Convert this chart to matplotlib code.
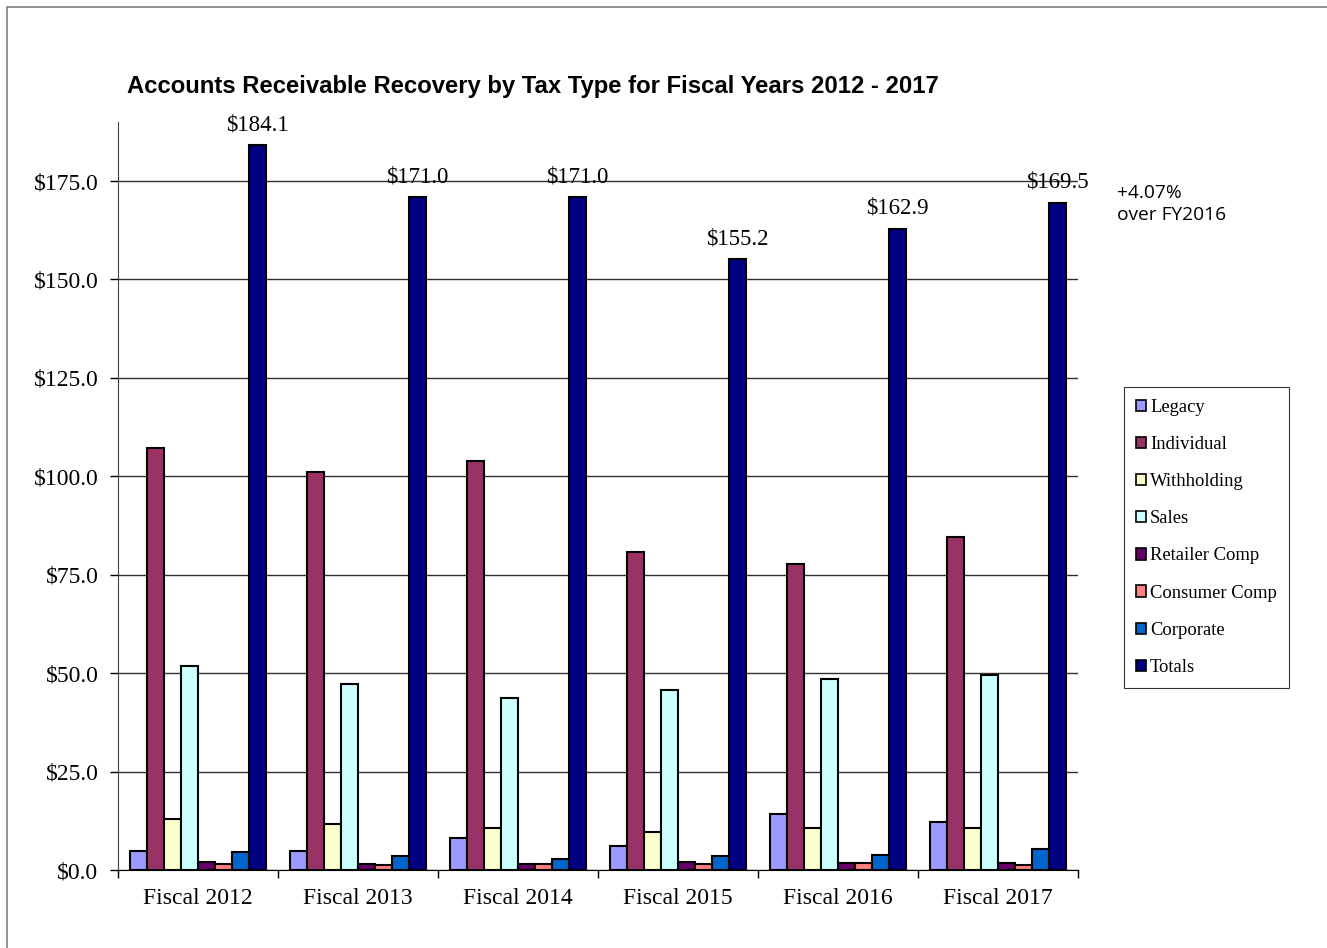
import numpy as np
import matplotlib
matplotlib.use("Agg")
import matplotlib.pyplot as plt
from matplotlib.patches import Rectangle

# data ($ millions)
years = ["Fiscal 2012", "Fiscal 2013", "Fiscal 2014", "Fiscal 2015", "Fiscal 2016", "Fiscal 2017"]
series_names = ["Legacy", "Individual", "Withholding", "Sales", "Retailer Comp",
                "Consumer Comp", "Corporate", "Totals"]
legacy = [4.9, 4.9, 8.2, 6.1, 14.2, 12.3]
individual = [107.2, 101.1, 103.9, 80.8, 77.7, 84.6]
withholding = [13.0, 11.8, 10.7, 9.7, 10.7, 10.6]
sales = [51.8, 47.2, 43.7, 45.7, 48.5, 49.5]
retailer = [2.1, 1.4, 1.4, 2.1, 1.9, 1.8]
consumer = [1.4, 1.3, 1.4, 1.4, 1.9, 1.3]
corporate = [4.5, 3.6, 2.9, 3.6, 3.8, 5.4]
totals = [184.1, 171.0, 171.0, 155.2, 162.9, 169.5]

colors = ["#9999FF", "#993366", "#FFFFCC", "#CCFFFF", "#660066", "#FF8080", "#0066CC", "#000080"]

serif = "Liberation Serif"

fig = plt.figure(figsize=(13.27, 9.48), dpi=100)
ax = fig.add_axes([118/1327, 78/948, 960/1327, 748/948])

all_series = [legacy, individual, withholding, sales, retailer, consumer, corporate, totals]
x = np.arange(len(years))
n = len(all_series)
w = 0.85 / n
for i, (vals, name, c) in enumerate(zip(all_series, series_names, colors)):
    pos = x - 0.425 + w * (i + 0.5)
    ax.bar(pos, vals, width=w, color=c, edgecolor="black", linewidth=1.5, label=name, zorder=3)

# labels on totals
pos_t = x - 0.425 + w * (n - 0.5)
for xp, v in zip(pos_t, totals):
    ax.annotate(f"${v:.1f}", (xp, v), xytext=(0, 7), textcoords="offset points",
                ha="center", va="bottom", fontsize=16.5, family=serif)

ax.set_xlim(-0.5, 5.5)
ax.set_ylim(0, 190)
ax.set_yticks(np.arange(0, 176, 25))
ax.set_yticklabels([f"${t:.1f}" for t in np.arange(0, 176, 25)], fontsize=17, family=serif)
ax.set_xticks(x)
ax.set_xticklabels(years, fontsize=17, family=serif)
ax.set_xticks(np.arange(-0.5, 6, 1), minor=True)
ax.tick_params(axis="x", which="major", length=0, pad=13)
ax.tick_params(axis="x", which="minor", length=6, width=1, direction="out")
ax.tick_params(axis="y", length=6, width=1, direction="out", pad=8)
ax.yaxis.grid(True, color="#303030", linewidth=1)
ax.set_axisbelow(True)
for s in ["top", "right"]:
    ax.spines[s].set_visible(False)
ax.spines["left"].set_color("#404040")
ax.spines["bottom"].set_color("black")

fig.text(127/1327, 1 - 86/948, "Accounts Receivable Recovery by Tax Type for Fiscal Years 2012 - 2017",
         fontsize=17.2, fontweight="bold", family="Liberation Sans", va="center", ha="left")
fig.text(1117/1327, 1 - 204/948, "+4.07%\nover FY2016", fontsize=13.8, family="Open Sans",
         va="center", ha="left", linespacing=1.3)

leg = fig.legend(loc="upper left", bbox_to_anchor=(1124/1327, 1 - 387/948),
                 prop={"family": serif, "size": 13.4}, frameon=True, fancybox=False,
                 handlelength=0.55, handleheight=0.55, handletextpad=0.2,
                 labelspacing=1.08, borderpad=0.65, borderaxespad=0)
leg.get_frame().set_edgecolor("black")
leg.get_frame().set_linewidth(0.8)
for h in leg.legend_handles:
    h.set_linewidth(1.2)

# outer border
fig.patches.append(Rectangle((7/1327, -0.01), 1.0, 1 - 7/948 + 0.01, transform=fig.transFigure,
                             fill=False, edgecolor="#808080", linewidth=1.2))

fig.savefig("out.png", dpi=100)
